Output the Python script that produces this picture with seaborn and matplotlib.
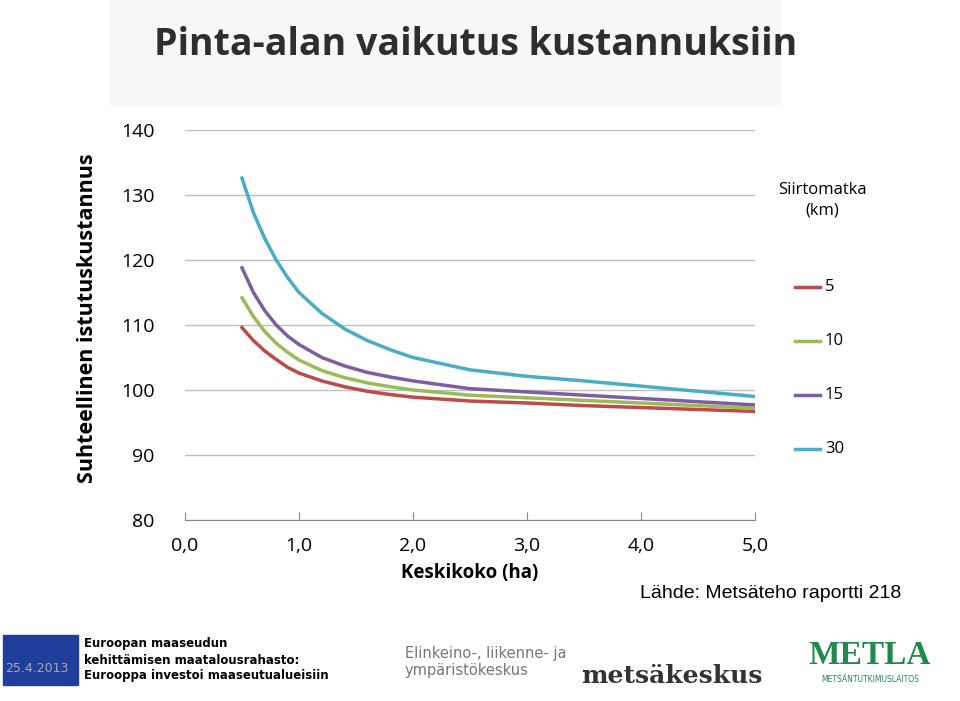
import matplotlib
matplotlib.use("Agg")
import matplotlib.pyplot as plt
import seaborn as sns
import pandas as pd
from matplotlib.patches import Rectangle

x5 = [0.5, 0.6, 0.7, 0.8, 0.9, 1.0, 1.2, 1.4, 1.6, 1.8, 2.0, 2.5, 3.0, 3.5, 4.0, 4.5, 5.0]
y5 = [109.6, 107.6, 106.0, 104.7, 103.5, 102.6, 101.4, 100.5, 99.8, 99.3, 98.9, 98.3, 98.0, 97.6, 97.3, 97.0, 96.7]
x10 = [0.5, 0.6, 0.7, 0.8, 0.9, 1.0, 1.2, 1.4, 1.6, 1.8, 2.0, 2.5, 3.0, 3.5, 4.0, 4.5, 5.0]
y10 = [114.2, 111.3, 109.0, 107.2, 105.8, 104.6, 103.0, 101.9, 101.1, 100.5, 100.0, 99.2, 98.8, 98.4, 98.0, 97.6, 97.2]
x15 = [0.5, 0.6, 0.7, 0.8, 0.9, 1.0, 1.2, 1.4, 1.6, 1.8, 2.0, 2.5, 3.0, 3.5, 4.0, 4.5, 5.0]
y15 = [118.8, 115.0, 112.2, 110.0, 108.3, 107.0, 105.0, 103.7, 102.7, 102.0, 101.4, 100.2, 99.7, 99.2, 98.7, 98.2, 97.7]
x30 = [0.5, 0.6, 0.7, 0.8, 0.9, 1.0, 1.2, 1.4, 1.6, 1.8, 2.0, 2.5, 3.0, 3.5, 4.0, 4.5, 5.0]
y30 = [132.6, 127.3, 123.3, 120.0, 117.3, 115.0, 111.8, 109.4, 107.6, 106.2, 105.0, 103.1, 102.1, 101.4, 100.6, 99.8, 99.0]
series = ["5", "10", "15", "30"]
colors = ["#be4b48", "#9bbb59", "#7d5fa0", "#4bacc6"]
xticks = [0, 1, 2, 3, 4, 5]
xticklabels = ["0,0", "1,0", "2,0", "3,0", "4,0", "5,0"]
yticks = [80, 90, 100, 110, 120, 130, 140]

rows = []
for s, xs, ys in zip(series, [x5, x10, x15, x30], [y5, y10, y15, y30]):
    rows += [{"x": a, "y": b, "s": s} for a, b in zip(xs, ys)]
df = pd.DataFrame(rows)

fig = plt.figure(figsize=(9.6, 7.01), dpi=100)
fig.patches.append(Rectangle((110/960, 1-105/701), 670/960, 105/701, transform=fig.transFigure,
                             color="#f7f7f7", zorder=0))
fig.text(0.495, 1-45/701, "Pinta-alan vaikutus kustannuksiin", ha="center", va="center",
         fontsize=27, fontweight="bold", color="#2e2e2e", family="Open Sans", stretch="condensed")

ax = fig.add_axes([185/960, 1-520/701, 570/960, 390/701])
sns.lineplot(data=df, x="x", y="y", hue="s", palette=colors, ax=ax, lw=2.5, legend=False)
ax.set_xlim(0, 5); ax.set_ylim(80, 140)
ax.set_xticks(xticks); ax.set_xticklabels(xticklabels)
ax.set_yticks(yticks)
ax.grid(axis="y", color="#bfbfbf", lw=1)
for sp in ["top", "right", "left"]:
    ax.spines[sp].set_visible(False)
ax.spines["bottom"].set_color("#888888")
ax.tick_params(axis="y", length=0, labelsize=14, pad=22)
ax.tick_params(axis="x", labelsize=14, direction="in", length=6, color="#888888", pad=12)
for t in ax.get_xticklabels() + ax.get_yticklabels():
    t.set_family("Open Sans")
ax.set_xlabel("Keskikoko (ha)", fontsize=13.5, fontweight="bold", labelpad=6, family="Open Sans")
ax.set_ylabel("")
fig.text(88/960, 1-318/701, "Suhteellinen istutuskustannus", rotation=90, ha="center", va="center",
         fontsize=15.5, fontweight="bold", family="Open Sans")

fig.text(822/960, 1-200/701, "Siirtomatka\n(km)", ha="center", va="center", fontsize=12,
         family="Open Sans", linespacing=1.4)
for i, (s, c) in enumerate(zip(series, colors)):
    yy = 1 - (287 + 54*i)/701
    fig.add_artist(plt.Line2D([795/960, 820/960], [yy, yy], color=c, lw=2.5, transform=fig.transFigure))
    fig.text(825/960, yy, s, va="center", fontsize=12, family="Open Sans")

fig.text(640/960, 1-593/701, "Lähde: Metsäteho raportti 218", fontsize=14, va="center", family="Liberation Sans")

# footer logos approximations
fig.patches.append(Rectangle((3/960, 1-685/701), 75/960, 50/701, transform=fig.transFigure, color="#1f3f9a"))
fig.text(5/960, 1-668/701, "25.4.2013", fontsize=9, color="#aaaaaa", va="center")
fig.text(84/960, 1-660/701, "Euroopan maaseudun\nkehittämisen maatalousrahasto:\nEurooppa investoi maaseutualueisiin",
         fontsize=8.5, fontweight="bold", va="center", linespacing=1.3)
fig.text(405/960, 1-662/701, "Elinkeino-, liikenne- ja\nympäristökeskus", fontsize=10.5, color="#777777", va="center")
fig.text(672/960, 1-676/701, "metsäkeskus", fontsize=18, fontweight="bold", color="#333333", ha="center",
         va="center", family="DejaVu Serif")
fig.text(870/960, 1-656/701, "METLA", fontsize=24, fontweight="bold", color="#1f8a4c", ha="center",
         va="center", family="Liberation Serif")
fig.text(870/960, 1-680/701, "METSÄNTUTKIMUSLAITOS", fontsize=5.5, color="#1f8a4c", ha="center", va="center")

fig.savefig("out.png", dpi=100)
